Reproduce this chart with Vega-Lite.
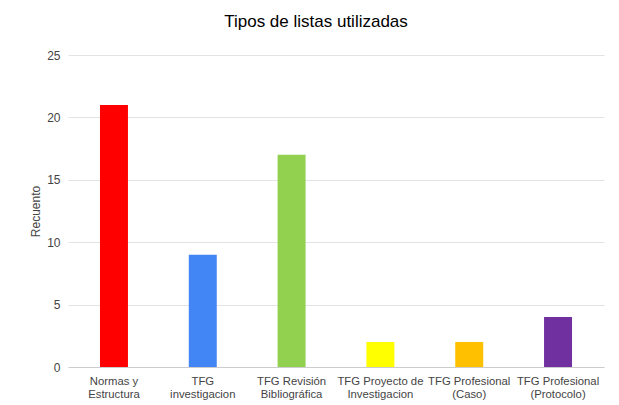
{
  "$schema": "https://vega.github.io/schema/vega-lite/v6.json",
  "width": 536,
  "height": 312,
  "autosize": {"type": "none"},
  "padding": {"left": 68, "top": 55, "right": 15, "bottom": 38},
  "background": "white",
  "title": {
    "text": "Tipos de listas utilizadas",
    "font": "Liberation Sans",
    "fontSize": 17,
    "fontWeight": "normal",
    "color": "#000000",
    "anchor": "middle",
    "dx": -20,
    "offset": 18
  },
  "data": {
    "values": [
      {"tipo": "Normas y|Estructura", "recuento": 21, "color": "#ff0000"},
      {"tipo": "TFG|investigacion", "recuento": 9, "color": "#4285f4"},
      {"tipo": "TFG Revisión|Bibliográfica", "recuento": 17, "color": "#92d050"},
      {"tipo": "TFG Proyecto de|Investigacion", "recuento": 2, "color": "#ffff00"},
      {"tipo": "TFG Profesional|(Caso)", "recuento": 2, "color": "#ffc000"},
      {"tipo": "TFG Profesional|(Protocolo)", "recuento": 4, "color": "#7030a0"}
    ]
  },
  "mark": {"type": "bar"},
  "encoding": {
    "x": {
      "field": "tipo",
      "type": "nominal",
      "sort": null,
      "scale": {"paddingInner": 0.685, "paddingOuter": 0.36},
      "axis": {
        "title": null,
        "labelAngle": 0,
        "labelExpr": "split(datum.label, '|')",
        "labelFont": "Liberation Sans",
        "labelFontSize": 11.3,
        "labelColor": "#444444",
        "labelPadding": 8,
        "labelLineHeight": 13,
        "labelBaseline": "top",
        "ticks": false,
        "domain": true,
        "domainColor": "#cccccc",
        "grid": false
      }
    },
    "y": {
      "field": "recuento",
      "type": "quantitative",
      "scale": {"domain": [0, 25]},
      "axis": {
        "title": "Recuento",
        "titleFont": "Liberation Sans",
        "titleFontSize": 12,
        "titleFontWeight": "normal",
        "titleColor": "#444444",
        "titlePadding": 4,
        "values": [0, 5, 10, 15, 20, 25],
        "labelFont": "Liberation Sans",
        "labelFontSize": 12,
        "labelColor": "#444444",
        "labelPadding": 8,
        "ticks": false,
        "domain": false,
        "gridColor": "#e3e3e3"
      }
    },
    "color": {"field": "color", "type": "nominal", "scale": null, "legend": null}
  },
  "config": {"view": {"stroke": null}}
}
